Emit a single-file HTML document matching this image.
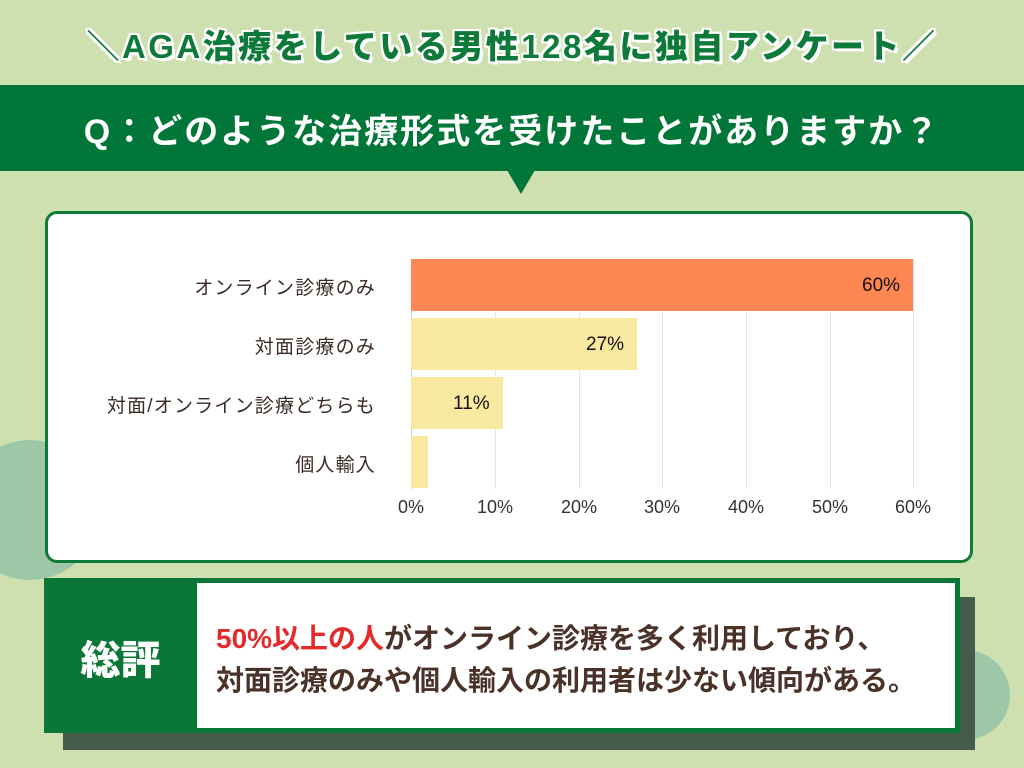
<!DOCTYPE html>
<html><head><meta charset="utf-8"><style>
body{margin:0;width:1024px;height:768px;background:#cfe0b0;position:relative;overflow:hidden;font-family:"Liberation Sans","Noto Sans CJK JP",sans-serif;}
.a{position:absolute}
.title{left:0;width:1024px;top:20px;text-align:center;font-size:33px;font-weight:900;color:#0e7a3a;text-shadow:2px 0 #fff,-2px 0 #fff,0 2px #fff,0 -2px #fff,2px 2px #fff,-2px -2px #fff,2px -2px #fff,-2px 2px #fff,3px 3px #fff;letter-spacing:2.5px}
.lbl{right:648px;font-size:19px;letter-spacing:1.2px;color:#3a2a25;text-align:right;white-space:nowrap}
.tick{font-size:18px;color:#333;width:60px;text-align:center;top:497px}
.grid{top:259px;width:1px;height:230px;background:#e4e4e4}
.bar{left:411px;height:52px}
.v{font-size:19px;color:#111}
</style></head><body>
<div class="a" style="left:-40px;top:440px;width:140px;height:140px;border-radius:50%;background:#9cc8a8"></div>
<div class="a" style="left:920px;top:650px;width:90px;height:90px;border-radius:50%;background:#9cc8a8"></div>
<div class="a title">＼AGA治療をしている男性128名に独自アンケート／</div>
<div class="a" style="left:0;top:85px;width:1024px;height:86px;background:#007638"></div>
<div class="a" style="left:0;top:104px;width:1024px;text-align:center;color:#fff;font-size:34px;font-weight:700;letter-spacing:2px">Q：どのような治療形式を受けたことがありますか？</div>
<div class="a" style="left:507px;top:170px;width:0;height:0;border-left:14px solid transparent;border-right:14px solid transparent;border-top:24px solid #007638"></div>
<div class="a" style="left:45px;top:211px;width:922px;height:346px;background:#fff;border:3px solid #0f7a3a;border-radius:12px"></div>
<div class="a grid" style="left:495px"></div><div class="a grid" style="left:579px"></div><div class="a grid" style="left:662px"></div><div class="a grid" style="left:746px"></div><div class="a grid" style="left:830px"></div><div class="a grid" style="left:913px"></div>
<div class="a" style="left:411px;top:259px;width:1px;height:230px;background:#ccc"></div>
<div class="a bar" style="top:259px;width:502px;background:#fe8653"></div>
<div class="a bar" style="top:318px;width:226px;background:#f8e8a0"></div>
<div class="a bar" style="top:377px;width:92px;background:#f8e8a0"></div>
<div class="a bar" style="top:436px;width:17px;background:#f8e8a0"></div>
<div class="a v" style="left:862px;top:275px">60%</div>
<div class="a v" style="left:586px;top:334px">27%</div>
<div class="a v" style="left:453px;top:393px">11%</div>
<div class="a lbl" style="top:273px">オンライン診療のみ</div>
<div class="a lbl" style="top:332px">対面診療のみ</div>
<div class="a lbl" style="top:391px">対面/オンライン診療どちらも</div>
<div class="a lbl" style="top:450px">個人輸入</div>
<div class="a tick" style="left:381px">0%</div><div class="a tick" style="left:465px">10%</div><div class="a tick" style="left:549px">20%</div><div class="a tick" style="left:632px">30%</div><div class="a tick" style="left:716px">40%</div><div class="a tick" style="left:800px">50%</div><div class="a tick" style="left:883px">60%</div>
<div class="a" style="left:63px;top:597px;width:912px;height:153px;background:#455b4b"></div>
<div class="a" style="left:44px;top:578px;width:916px;height:155px;background:#0a7638"></div>
<div class="a" style="left:197px;top:583px;width:758px;height:145px;background:#fff"></div>
<div class="a" style="left:44px;top:628px;width:153px;text-align:center;color:#fff;font-size:40px;font-weight:900">総評</div>
<div class="a" style="left:216px;top:618px;font-size:28px;font-weight:700;color:#4a3228;line-height:42px;white-space:nowrap"><span style="color:#e32b2b">50%以上の人</span>がオンライン診療を多く利用しており、<br>対面診療のみや個人輸入の利用者は少ない傾向がある。</div>
</body></html>
